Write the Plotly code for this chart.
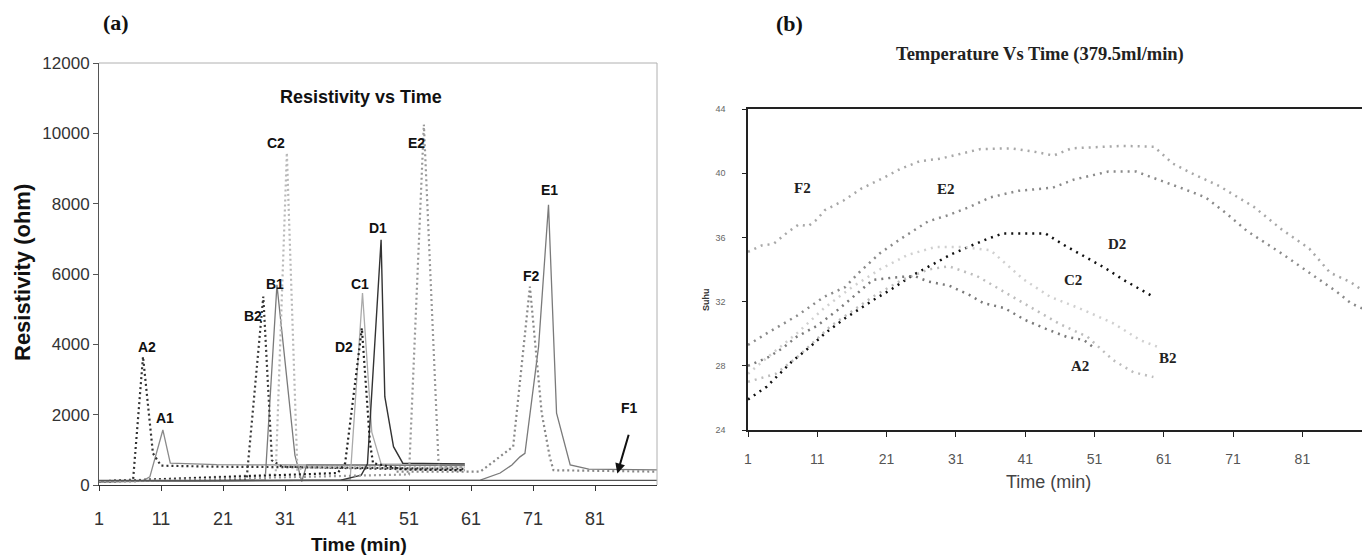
import plotly.graph_objects as go

# ---------------- Panel (a): Resistivity vs Time ----------------
A1_t = [1, 8, 9.2, 11.3, 12.5, 20, 30, 40, 50, 60]
A1_v = [100, 110, 230, 1565, 620, 580, 570, 560, 560, 550]
A2_t = [1, 6.5, 8.1, 9.7, 11, 20, 30, 40, 50, 60]
A2_v = [100, 150, 3650, 900, 550, 520, 510, 500, 480, 460]
B1_t = [1, 27.8, 29.7, 32.6, 33.7, 34.5, 45, 60]
B1_v = [100, 140, 5690, 850, 100, 570, 570, 560]
B2_t = [1, 24.8, 27.5, 28.9, 30.5, 40, 50, 60]
B2_v = [100, 150, 5360, 700, 520, 480, 450, 420]
C1_t = [1, 41.5, 43.5, 45, 46.5, 60]
C1_v = [100, 150, 5460, 1500, 600, 590]
C2_t = [1, 29.5, 31.3, 33, 34, 45, 60]
C2_v = [100, 300, 9450, 400, 520, 520, 500]
D1_t = [1, 40, 43.3, 44.3, 46.5, 47.1, 48.5, 50, 60]
D1_v = [100, 140, 280, 600, 6970, 2510, 1090, 620, 600]
D2_t = [1, 39.5, 40.7, 43.4, 44.7, 45.2, 50, 60]
D2_v = [100, 340, 620, 4460, 1200, 620, 450, 420]
E1_t = [1, 62.5, 65.7, 67.6, 68.9, 69.7, 71.9, 73.5, 74.8, 77, 80, 91]
E1_v = [100, 140, 340, 570, 800, 900, 3935, 7965, 2040, 570, 450, 430]
E2_t = [1, 51, 53.4, 55.8, 57, 60]
E2_v = [100, 300, 10250, 500, 520, 500]
F1_t = [1, 91]
F1_v = [130, 130]
F2_t = [49, 62.5, 65.4, 67.8, 70.5, 72.4, 73.7, 74.3, 91]
F2_v = [380, 380, 770, 1090, 5640, 2050, 800, 420, 380]

a_ticks = [1, 11, 21, 31, 41, 51, 61, 71, 81]
a_yticks = [0, 2000, 4000, 6000, 8000, 10000, 12000]

# label name, t, value
a_labels = [("A2", 8.8, 3920), ("A1", 11.6, 1915), ("B2", 25.8, 4810),
            ("B1", 29.4, 5720), ("C2", 29.6, 9720), ("C1", 43.1, 5720),
            ("D2", 40.5, 3920), ("D1", 46.0, 7300), ("E2", 52.2, 9720),
            ("E1", 73.7, 8390), ("F2", 70.7, 5950), ("F1", 86.5, 2180)]
F1_arrow_tip = (84.6, 330)
F1_arrow_tail = (86.5, 1470)

# ---------------- Panel (b): Temperature vs Time ----------------
bA2_t = [1, 4, 6, 8, 11, 14, 17, 19, 22, 25, 27, 30, 33, 35, 38, 41, 44, 47, 49.5, 51]
bA2_v = [28.0, 28.55, 29.1, 29.8, 30.5, 31.5, 32.6, 33.35, 33.5, 33.6, 33.25, 33.0,
         32.4, 31.9, 31.6, 30.85, 30.3, 29.8, 29.6, 29.1]
bB2_t = [1, 5, 8, 11, 13, 19, 23, 27, 30, 34, 38, 42, 46, 50, 53.7, 56.6, 59.5]
bB2_v = [27.0, 27.5, 28.5, 29.7, 30.5, 32.3, 33.3, 34.0, 34.2, 33.6, 32.6, 31.6,
         30.6, 29.8, 28.35, 27.6, 27.3]
bC2_t = [1, 4, 8, 12, 16, 20, 24, 28, 32, 36, 40.7, 44.6, 49.3, 53.7, 57.6, 60]
bC2_v = [27.5, 28.6, 30.0, 31.6, 32.9, 34.0, 34.9, 35.4, 35.4, 35.2, 33.4, 32.3,
         31.5, 30.65, 29.6, 29.2]
bD2_t = [1, 2.3, 3.7, 7.3, 10, 12.2, 15, 19.1, 21.8, 24.8, 27.6, 30.4, 33.3, 35.5,
         37.8, 43.9, 46.7, 49.6, 52.5, 55.2, 58, 59.5]
bD2_v = [25.9, 26.3, 26.7, 28.25, 29.2, 30.06, 30.96, 32.1, 32.8, 33.65, 34.3, 34.96,
         35.5, 35.9, 36.25, 36.25, 35.5, 34.8, 34.1, 33.35, 32.7, 32.3]
bE2_t = [1, 4, 8, 12, 15, 17, 20, 23, 27, 30, 33, 36, 40, 45, 48, 53, 57, 61, 64, 67,
         70, 73, 78, 82, 86, 88, 90]
bE2_v = [29.3, 30.1, 31.1, 32.3, 32.9, 33.8, 35.0, 35.9, 37.0, 37.4, 37.9, 38.5, 38.9,
         39.1, 39.6, 40.1, 40.1, 39.5, 39.0, 38.5, 37.5, 36.4, 35.0, 33.8, 32.6, 31.9, 31.5]
bF2_t = [1, 3, 4.7, 6.8, 8.3, 9.7, 10.9, 12.1, 14.8, 17.4, 20.5, 22.9, 25.8, 28.7, 31.6,
         34.5, 39, 42.2, 45.1, 47.7, 55, 59.6, 62.3, 65, 69, 72, 74, 78, 82, 85, 88, 90]
bF2_v = [35.1, 35.5, 35.6, 36.35, 36.8, 36.7, 37.1, 37.7, 38.3, 39.05, 39.7, 40.25, 40.75,
         40.9, 41.2, 41.5, 41.55, 41.35, 41.1, 41.55, 41.7, 41.65, 40.6, 40.0, 39.2, 38.4,
         37.9, 36.5, 35.3, 33.8, 33.2, 32.6]

b_ticks = [1, 11, 21, 31, 41, 51, 61, 71, 81]
b_yticks = [24, 28, 32, 36, 40, 44]
b_labels = [("F2", 8.9, 39.1), ("E2", 29.6, 39.0), ("D2", 54.2, 35.6),
            ("C2", 47.9, 33.35), ("B2", 61.6, 28.5), ("A2", 48.9, 28.0)]

fig = go.Figure()

SANS = "Liberation Sans, Arial, sans-serif"
SERIF = "Liberation Serif, Times New Roman, serif"

a_series = [
    (A1_t, A1_v, "#8a8a8a", None, 1.3),
    (A2_t, A2_v, "#333333", "2px,3px", 2.2),
    (B1_t, B1_v, "#7a7a7a", None, 1.3),
    (B2_t, B2_v, "#3a3a3a", "2px,3px", 2.2),
    (C1_t, C1_v, "#aaaaaa", None, 1.3),
    (C2_t, C2_v, "#b8b8b8", "2px,3px", 2.2),
    (D1_t, D1_v, "#333333", None, 1.4),
    (D2_t, D2_v, "#222222", "2px,3px", 2.2),
    (E1_t, E1_v, "#7a7a7a", None, 1.3),
    (E2_t, E2_v, "#999999", "2px,3px", 2.2),
    (F1_t, F1_v, "#555555", None, 1.2),
    (F2_t, F2_v, "#888888", "2px,3px", 2.2),
]
for t, v, c, d, w in a_series:
    fig.add_trace(go.Scatter(x=t, y=v, mode="lines", xaxis="x", yaxis="y",
                             line=dict(color=c, width=w, dash=d if d else "solid"),
                             showlegend=False, hoverinfo="skip"))

b_series = [
    (bF2_t, bF2_v, "#a8a8a8"),
    (bE2_t, bE2_v, "#8a8a8a"),
    (bD2_t, bD2_v, "#111111"),
    (bC2_t, bC2_v, "#d0d0d0"),
    (bB2_t, bB2_v, "#bdbdbd"),
    (bA2_t, bA2_v, "#7a7a7a"),
]
for t, v, c in b_series:
    fig.add_trace(go.Scatter(x=t, y=v, mode="lines", xaxis="x2", yaxis="y2",
                             line=dict(color=c, width=2.5, dash="2px,5px"),
                             showlegend=False, hoverinfo="skip"))

ann = []
for name, t, v in a_labels:
    ann.append(dict(x=t, y=v, xref="x", yref="y", text=name, showarrow=False,
                    xanchor="center", yanchor="middle",
                    font=dict(family=SANS, size=14, color="#111", weight="bold")))
ann.append(dict(x=F1_arrow_tip[0], y=F1_arrow_tip[1], ax=F1_arrow_tail[0], ay=F1_arrow_tail[1],
                xref="x", yref="y", axref="x", ayref="y", text="", showarrow=True,
                arrowhead=2, arrowsize=1, arrowwidth=2, arrowcolor="#111"))
for name, t, v in b_labels:
    ann.append(dict(x=t, y=v, xref="x2", yref="y2", text=name, showarrow=False,
                    xanchor="center", yanchor="middle",
                    font=dict(family=SERIF, size=15, color="#222", weight="bold")))


def paper_text(px, py, text, font, angle=0):
    return dict(x=px / 1362, y=1 - py / 559, xref="paper", yref="paper", text=text,
                showarrow=False, xanchor="center", yanchor="middle", textangle=angle, font=font)


ann += [
    paper_text(361, 97, "Resistivity vs Time",
               dict(family=SANS, size=18, color="#111", weight="bold")),
    paper_text(116, 22, "(a)", dict(family=SERIF, size=22, color="#111", weight="bold")),
    paper_text(790, 24, "(b)", dict(family=SERIF, size=22, color="#111", weight="bold")),
    paper_text(1040, 55, "Temperature Vs Time (379.5ml/min)",
               dict(family=SERIF, size=18.5, color="#222", weight="bold")),
    paper_text(706, 300, "Suhu", dict(family=SANS, size=9, color="#333", weight="bold"), -90),
    paper_text(22, 273, "Resistivity (ohm)",
               dict(family=SANS, size=22, color="#111", weight="bold"), -90),
    paper_text(359, 544, "Time (min)", dict(family=SANS, size=19, color="#111", weight="bold")),
    paper_text(1048, 482, "Time (min)", dict(family=SANS, size=18, color="#444")),
]

shapes = [
    dict(type="line", xref="x domain", yref="y domain", x0=0, x1=1, y0=1, y1=1,
         line=dict(color="#b0b0b0", width=1)),
    dict(type="line", xref="x domain", yref="y domain", x0=1, x1=1, y0=0, y1=1,
         line=dict(color="#b0b0b0", width=1)),
]

fig.update_layout(
    template="none",
    width=1362, height=559,
    margin=dict(l=0, r=0, t=0, b=0, autoexpand=False),
    paper_bgcolor="white", plot_bgcolor="white",
    showlegend=False,
    annotations=ann, shapes=shapes,
    xaxis=dict(domain=[99 / 1362, 657 / 1362], range=[1, 91], tickvals=a_ticks,
               automargin=False,
               showgrid=False, zeroline=False, showline=True, linecolor="#333", linewidth=1.2,
               ticks="outside", ticklen=5, tickcolor="#333", ticklabelstandoff=12,
               tickfont=dict(family=SANS, size=18, color="#333"),
               anchor="y"),
    yaxis=dict(domain=[(559 - 485) / 559, (559 - 63) / 559], range=[0, 12000], tickvals=a_yticks,
               tickformat="d", automargin=False,
               showgrid=False, zeroline=False, showline=True, linecolor="#555", linewidth=1,
               ticks="outside", ticklen=5, tickcolor="#555",
               tickfont=dict(family=SANS, size=17, color="#333"),
               anchor="x"),
    xaxis2=dict(domain=[748 / 1362, 1.0], range=[1, 89.6], tickvals=b_ticks,
                automargin=False,
                showgrid=False, zeroline=False, showline=True, linecolor="#222", linewidth=1.5,
                mirror=True, ticks="outside", ticklen=5, tickcolor="#222", ticklabelstandoff=10,
                tickfont=dict(family=SANS, size=14, color="#555"),
                anchor="y2"),
    yaxis2=dict(domain=[(559 - 430) / 559, (559 - 109) / 559], range=[24, 44], tickvals=b_yticks,
                automargin=False,
                showgrid=False, zeroline=False, showline=True, linecolor="#222", linewidth=1.5,
                ticks="outside", ticklen=4, tickcolor="#222", ticklabelstandoff=15,
                tickfont=dict(family=SANS, size=9, color="#666"),
                anchor="x2"),
)

fig.write_html("out.html", config={"displayModeBar": False},
               post_script="document.body.style.margin='0';document.body.style.overflow='hidden';")
